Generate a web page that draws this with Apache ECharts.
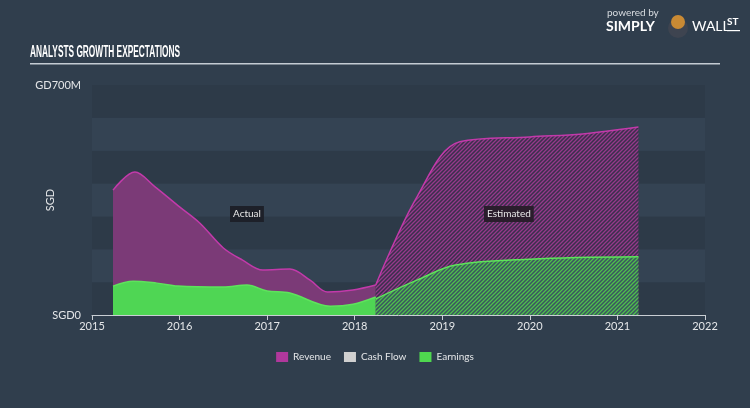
<!DOCTYPE html>
<html>
<head>
<meta charset="utf-8">
<script src="https://cdn.jsdelivr.net/npm/echarts@6/dist/echarts.min.js"></script>
<style>
html,body{margin:0;padding:0;background:#303e4d;}
#c{width:750px;height:408px;}
</style>
</head>
<body>
<div id="c"></div>
<script>
// ---- data (x = decimal year, y = SGD millions) ----
var revenueActualX = [2015.24, 2015.49, 2015.72, 2016.0, 2016.23, 2016.5, 2016.72, 2016.95, 2017.26, 2017.49, 2017.69, 2017.98, 2018.24];
var revenueActualY = [380, 435, 390, 329, 280, 204, 167, 137, 140, 106, 70, 76, 91];
var revenueEstX = [2018.24, 2018.71, 2019.2, 2020.0, 2020.6, 2021.24];
var revenueEstY = [91, 359, 527, 542, 551, 572];
var earningsActualX = [2015.24, 2015.47, 2015.74, 2015.98, 2016.5, 2016.77, 2017.0, 2017.26, 2017.72, 2017.98, 2018.24];
var earningsActualY = [88, 103, 97, 88, 85, 91, 73, 67, 27, 33, 55];
var earningsEstX = [2018.24, 2018.71, 2019.15, 2020.0, 2021.24];
var earningsEstY = [49, 106, 152, 170, 177];
var cashFlowY = [];
var yearTicks = [2015, 2016, 2017, 2018, 2019, 2020, 2021, 2022];
var yTickLabels = {0: 'SGD0', 700: 'GD700M'};
var legendNames = ['Revenue', 'Cash Flow', 'Earnings'];

function pairs(xs, ys){ return xs.map(function(x,i){return [x, ys[i]];}); }

function hatch(bg, fg){
  var c = document.createElement('canvas');
  c.width = 4; c.height = 4;
  var g = c.getContext('2d');
  g.fillStyle = bg; g.fillRect(0,0,4,4);
  g.strokeStyle = fg; g.lineWidth = 1.3;
  g.beginPath();
  g.moveTo(-1,5); g.lineTo(5,-1);
  g.moveTo(-1,1); g.lineTo(1,-1);
  g.moveTo(3,5); g.lineTo(5,3);
  g.stroke();
  return c;
}

var chart = echarts.init(document.getElementById('c'));
var font = 'Lato, "Noto Sans", sans-serif';
chart.setOption({
  backgroundColor: '#303e4d',
  animation: false,
  grid: {left: 92, right: 45, top: 85, bottom: 93},
  xAxis: {
    type: 'value', min: 2015, max: 2022, interval: 1,
    axisLine: {lineStyle: {color: '#c9ced4', width: 1}},
    axisTick: {show: true, length: 5, lineStyle: {color: '#c9ced4'}},
    axisLabel: {color: '#e4e6e8', fontSize: 11, fontFamily: font, margin: 6,
      formatter: function(v){ return yearTicks.indexOf(v) >= 0 ? String(v) : ''; }},
    splitLine: {show: false}
  },
  yAxis: {
    type: 'value', min: 0, max: 700, interval: 100,
    name: 'SGD', nameLocation: 'middle', nameGap: 36, nameRotate: 90, nameMoveOverlap: false,
    nameTextStyle: {color: '#e4e6e8', fontSize: 11, fontFamily: font},
    axisLine: {show: false}, axisTick: {show: false},
    axisLabel: {color: '#e4e6e8', fontSize: 11, fontFamily: font, margin: 11,
      formatter: function(v){ return yTickLabels[v] || ''; }},
    splitLine: {show: false},
    splitArea: {show: true, areaStyle: {color: ['#2d3a48', '#344353']}}
  },
  legend: {
    data: legendNames, bottom: 41, left: 'center', itemGap: 13,
    icon: 'rect', itemWidth: 12, itemHeight: 10,
    textStyle: {color: '#e4e6e8', fontSize: 10, fontFamily: font},
    selectedMode: false
  },
  series: [
    {name: 'Revenue', type: 'line', data: pairs(revenueActualX, revenueActualY), smooth: 0.35, symbol: 'none',
     itemStyle: {color: '#b0389c'}, lineStyle: {color: '#c23aaa', width: 1.5},
     areaStyle: {color: '#7b3a77', opacity: 1}, z: 2},
    {name: 'Revenue', type: 'line', data: pairs(revenueEstX, revenueEstY), smooth: 0.35, symbol: 'none',
     itemStyle: {color: '#b0389c'}, lineStyle: {color: '#c23aaa', width: 1.5},
     areaStyle: {color: {image: hatch('#3a2f4c', '#96398b'), repeat: 'repeat'}, opacity: 1}, z: 2},
    {name: 'Cash Flow', type: 'line', data: cashFlowY, symbol: 'none', itemStyle: {color: '#d0d0d0'}},
    {name: 'Earnings', type: 'line', data: pairs(earningsActualX, earningsActualY), smooth: 0.35, symbol: 'none',
     itemStyle: {color: '#4fd84f'}, lineStyle: {color: '#5ee35c', width: 1.5},
     areaStyle: {color: '#4fd654', opacity: 1}, z: 3},
    {name: 'Earnings', type: 'line', data: pairs(earningsEstX, earningsEstY), smooth: 0.35, symbol: 'none',
     itemStyle: {color: '#4fd84f'}, lineStyle: {color: '#5ee35c', width: 1.5},
     areaStyle: {color: {image: hatch('#3a5560', '#4fbf4c'), repeat: 'repeat'}, opacity: 1}, z: 3}
  ],
  graphic: [
    {type: 'text', x: 30, y: 45, scaleX: 0.52, style: {text: 'ANALYSTS GROWTH EXPECTATIONS', fill: '#ffffff',
      font: 'bold 16px "Liberation Sans", sans-serif'}},
    {type: 'rect', shape: {x: 30, y: 63, width: 690, height: 1.5}, style: {fill: '#c4cbd3'}},
    {type: 'text', left: 230, top: 206, z: 10, style: {text: 'Actual', fill: '#e8e8e8', font: '10px ' + font,
      backgroundColor: '#1d2029', padding: [3, 3]}},
    {type: 'text', left: 484, top: 206, z: 10, style: {text: 'Estimated', fill: '#e8e8e8', font: '10px ' + font,
      backgroundColor: '#2a1d2c', padding: [3, 3]}},
    {type: 'text', left: 607, top: 8, style: {text: 'powered by', fill: '#d8dce0', font: '10px ' + font}},
    {type: 'text', left: 606, top: 19, style: {text: 'SIMPLY', fill: '#ffffff', font: 'bold 14px ' + font}},
    {type: 'circle', shape: {cx: 678, cy: 28, r: 10}, style: {fill: '#3e4450'}},
    {type: 'circle', shape: {cx: 678, cy: 22, r: 7}, style: {fill: '#c98a34'}},
    {type: 'text', left: 692, top: 19, style: {text: 'WALL', fill: '#ffffff', font: '14px ' + font}},
    {type: 'text', left: 727, top: 17, style: {text: 'ST', fill: '#ffffff', font: 'bold 10px ' + font}},
    {type: 'rect', shape: {x: 727, y: 30, width: 13, height: 1.2}, style: {fill: '#ffffff'}}
  ]
});
</script>
</body>
</html>
